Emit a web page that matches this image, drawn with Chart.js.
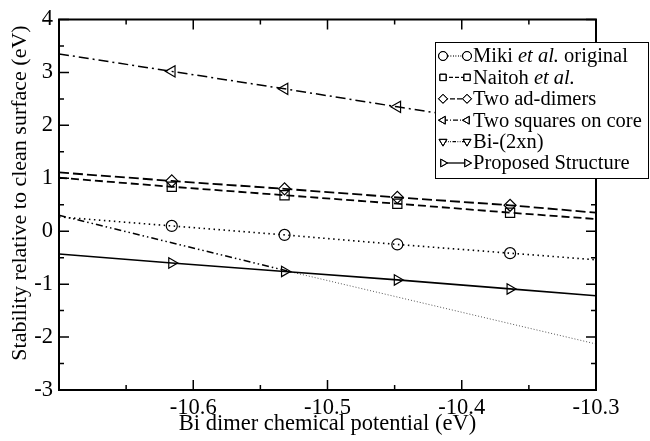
<!DOCTYPE html>
<html>
<head>
<meta charset="utf-8">
<script src="https://cdn.jsdelivr.net/npm/chart.js@4/dist/chart.umd.min.js"></script>
<style>
  html, body { margin: 0; padding: 0; background: #fff; }
</style>
</head>
<body>
<canvas id="stabilityChart" width="650" height="441"></canvas>
<script>
// Bi dimer chemical potential (eV) – plot edges plus the four marker positions
const mu = [-10.7, -10.616, -10.532, -10.448, -10.364, -10.3];

const miki       = [0.27, 0.10, -0.07, -0.25, -0.415, -0.54];
const naitoh     = [1.01, 0.84, 0.68, 0.52, 0.35, 0.23];
const adDimers   = [1.11, 0.95, 0.80, 0.64, 0.49, 0.35];
const twoSquares = [3.35, 3.02, 2.69, 2.35, 2.02, 1.77];
const proposed   = [-0.43, -0.60, -0.76, -0.92, -1.09, -1.22];

// Bi-(2xn): dash-dot part, then thin dotted continuation
const biMu     = [-10.7, -10.527];
const bi2xn    = [0.30, -0.77];
const biExtMu  = [-10.527, -10.3];
const bi2xnExt = [-0.77, -2.13];

const xTicks = [-10.6, -10.5, -10.4, -10.3];
const yTicks = [-3, -2, -1, 0, 1, 2, 3, 4];

const yTitle = 'Stability relative to clean surface (eV)';
const SERIF = "'Liberation Serif', 'DejaVu Serif', serif";

function pts(xs, ys) {
    return xs.map((x, i) => ({ x: x, y: ys[i] }));
}
// markers only on the inner points, not on the edge points
function marks(r) {
    return mu.map((m, i) => (i === 0 || i === mu.length - 1) ? 0 : r);
}

function series(label, ys, dash, width, style, rot, r) {
    return {
        label: label,
        data: pts(mu, ys),
        borderColor: '#000',
        borderWidth: width,
        borderDash: dash,
        pointStyle: style,
        pointRotation: rot,
        pointRadius: marks(r),
        pointBorderColor: '#000',
        pointBackgroundColor: 'rgba(0,0,0,0)',
        pointBorderWidth: 1.2,
        fill: false,
        tension: 0,
        mark: { style: style, rot: rot }
    };
}

const datasets = [
    series('Miki et al. original', miki, [1.5, 3.5], 1.6, 'circle', 0, 5.5),
    series('Naitoh et al.', naitoh, [8, 4], 1.8, 'rect', 0, 6.5),
    series('Two ad-dimers', adDimers, [10, 4], 1.8, 'rectRot', 0, 6),
    series('Two squares on core', twoSquares, [10, 4, 2, 4], 1.5, 'triangle', 270, 6.5),
    {
        label: 'Bi-(2xn)',
        data: pts(biMu, bi2xn),
        borderColor: '#000',
        borderWidth: 1.5,
        borderDash: [7, 3, 1.5, 3, 1.5, 3],
        pointRadius: 0,
        fill: false,
        mark: { style: 'triangle', rot: 180 }
    },
    series('Proposed Structure', proposed, [], 1.6, 'triangle', 90, 6),
    {
        label: '',
        data: pts(biExtMu, bi2xnExt),
        borderColor: '#555',
        borderWidth: 1,
        borderDash: [1, 2],
        pointRadius: 0,
        fill: false
    }
];

// frame with inward ticks on all four sides + boxed legend + y title
const framePlugin = {
    id: 'frame',
    afterDatasetsDraw(chart) {
        const { ctx, chartArea: a, scales } = chart;
        const x = scales.x, y = scales.y;
        ctx.save();
        ctx.strokeStyle = '#000';
        ctx.lineWidth = 2;
        ctx.strokeRect(a.left, a.top, a.right - a.left, a.bottom - a.top);

        ctx.lineWidth = 1.5;
        ctx.beginPath();
        for (let i = 0; i <= 8; i++) {
            const px = x.getPixelForValue(-10.7 + i * 0.05);
            const len = i % 2 === 0 ? 10 : 5;
            ctx.moveTo(px, a.bottom); ctx.lineTo(px, a.bottom - len);
            ctx.moveTo(px, a.top); ctx.lineTo(px, a.top + len);
        }
        for (let i = 0; i <= 14; i++) {
            const py = y.getPixelForValue(-3 + i * 0.5);
            const len = i % 2 === 0 ? 10 : 5;
            ctx.moveTo(a.left, py); ctx.lineTo(a.left + len, py);
            ctx.moveTo(a.right, py); ctx.lineTo(a.right - len, py);
        }
        ctx.stroke();

        // y axis title (sits a bit above the plot centre, like the original)
        ctx.save();
        ctx.translate(20, 193);
        ctx.rotate(-Math.PI / 2);
        ctx.fillStyle = '#000';
        ctx.font = '22px ' + SERIF;
        ctx.textAlign = 'center';
        ctx.textBaseline = 'middle';
        ctx.fillText(yTitle, 0, 0);
        ctx.restore();

        // legend box
        const bx = 435, by = 42, bw = 213, bh = 136;
        ctx.fillStyle = '#fff';
        ctx.fillRect(bx, by, bw, bh);
        ctx.lineWidth = 1;
        ctx.strokeRect(bx + 0.5, by + 0.5, bw, bh);

        const rows = chart.data.datasets.filter(d => d.mark);
        rows.forEach((d, i) => {
            const ry = 56 + i * 21.4;
            const x1 = 443, x2 = 467;
            ctx.strokeStyle = '#000';
            ctx.lineWidth = 1.3;
            ctx.setLineDash(d.borderDash && d.borderDash.length ? d.borderDash.map(v => v * 0.5) : []);
            ctx.beginPath();
            ctx.moveTo(x1, ry); ctx.lineTo(x2, ry);
            ctx.stroke();
            ctx.setLineDash([]);
            ctx.lineWidth = 1;
            ctx.fillStyle = '#fff';
            [x1, x2].forEach(px => {
                Chart.helpers.drawPoint(ctx, {
                    pointStyle: d.mark.style, rotation: d.mark.rot,
                    radius: 4.5, borderWidth: 1
                }, px, ry);
                ctx.stroke();
            });

            // label, "et al." in italics
            ctx.fillStyle = '#000';
            ctx.textBaseline = 'middle';
            ctx.textAlign = 'left';
            let tx = 473;
            const parts = d.label.split(/(et al\.)/);
            parts.forEach(p => {
                if (!p) return;
                ctx.font = (p === 'et al.' ? 'italic ' : '') + '20.5px ' + SERIF;
                ctx.fillText(p, tx, ry + 1);
                tx += ctx.measureText(p).width;
            });
        });
        ctx.restore();
    }
};

const ctx = document.getElementById('stabilityChart').getContext('2d');

new Chart(ctx, {
    type: 'line',
    data: { datasets: datasets },
    plugins: [framePlugin],
    options: {
        responsive: false,
        animation: false,
        devicePixelRatio: 1,
        layout: { padding: { top: 16, right: 54, left: 0, bottom: 0 } },
        plugins: {
            legend: { display: false },
            tooltip: { enabled: false }
        },
        scales: {
            x: {
                type: 'linear',
                min: -10.7,
                max: -10.3,
                afterFit: s => { s.height = 51; },
                afterBuildTicks: s => { s.ticks = xTicks.map(v => ({ value: v })); },
                ticks: {
                    color: '#000',
                    padding: 5,
                    maxRotation: 0,
                    font: { family: SERIF, size: 22.5 },
                    callback: v => v.toFixed(1)
                },
                grid: { display: false, drawTicks: false },
                border: { display: false },
                title: {
                    display: true,
                    text: 'Bi dimer chemical potential (eV)',
                    color: '#000',
                    font: { family: SERIF, size: 22.5 },
                    padding: { top: 0, bottom: 3 }
                }
            },
            y: {
                min: -3,
                max: 4,
                afterFit: s => { s.width = 59; },
                afterBuildTicks: s => { s.ticks = yTicks.map(v => ({ value: v })); },
                ticks: {
                    color: '#000',
                    padding: 6,
                    font: { family: SERIF, size: 22.5 },
                    callback: v => String(v)
                },
                grid: { display: false, drawTicks: false },
                border: { display: false },
                title: { display: false }
            }
        }
    }
});
</script>
</body>
</html>
